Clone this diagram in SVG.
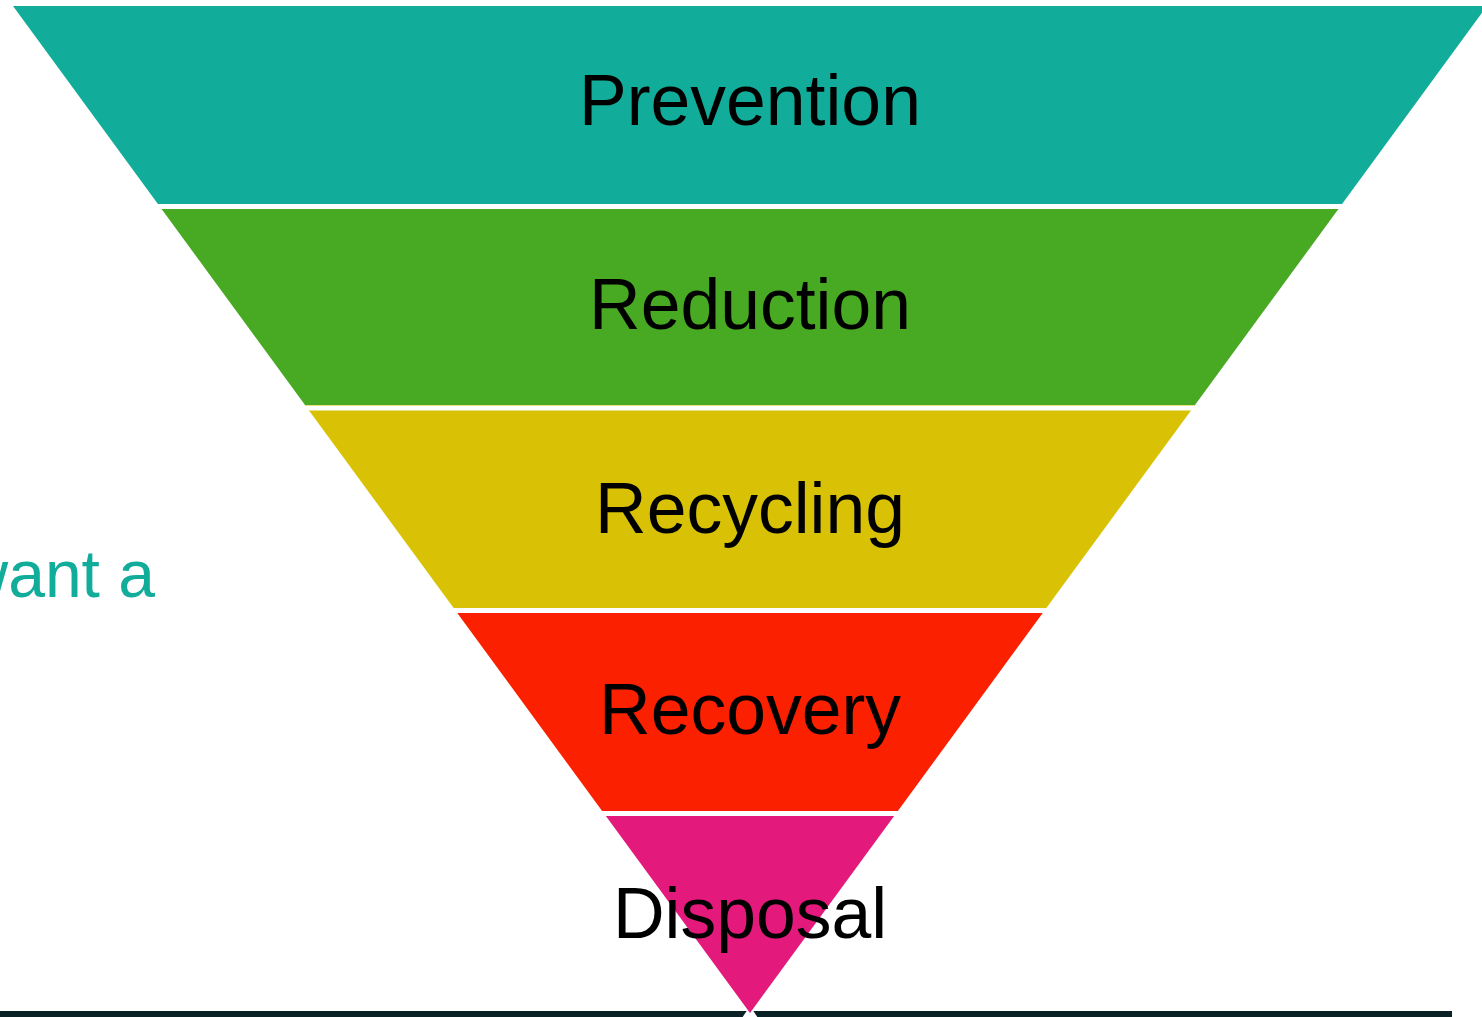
<svg xmlns="http://www.w3.org/2000/svg" width="1482" height="1017" viewBox="0 0 1482 1017">
<style>
.lbl{font-family:"Liberation Sans",Arial,sans-serif;font-size:71.5px;fill:#000000;text-anchor:middle}
.side{font-family:"Liberation Sans",Arial,sans-serif;font-size:66px;fill:#12ac9a;text-anchor:end}
.gap{stroke:#ffffff;stroke-width:5}
</style>
<rect x="0" y="1011" width="1452" height="6" fill="#0a2226"/>
<polygon points="742,1018 750,1006 758,1018" fill="#ffffff"/>
<text class="side" x="155" y="597">want a</text>
<g id="prevention">
<polygon fill="#12ac9a" points="13,6 1487,6 1337.7,210 162.3,210"/>
<text class="lbl" x="750" y="125">Prevention</text>
</g>
<g id="reduction">
<polygon fill="#48a923" points="157.9,204 1342.1,204 1190.6,411 309.4,411"/>
<text class="lbl" x="750" y="329">Reduction</text>
</g>
<g id="recycling">
<polygon fill="#d9c205" points="305,405 1195,405 1042.7,613 457.3,613"/>
<text class="lbl" x="750" y="533">Recycling</text>
</g>
<g id="recovery">
<polygon fill="#fb2000" points="453.6,608 1046.4,608 894.2,816 605.8,816"/>
<text class="lbl" x="750" y="734">Recovery</text>
</g>
<g id="disposal">
<polygon fill="#e3197b" points="602.2,811 897.8,811 750,1013"/>
<text class="lbl" x="750" y="938">Disposal</text>
</g>
<g id="connectors">
<line class="gap" x1="0" y1="206.5" x2="1482" y2="206.5"/>
<line class="gap" x1="0" y1="408" x2="1482" y2="408"/>
<line class="gap" x1="0" y1="610.5" x2="1482" y2="610.5"/>
<line class="gap" x1="0" y1="813.5" x2="1482" y2="813.5"/>
</g>
</svg>
